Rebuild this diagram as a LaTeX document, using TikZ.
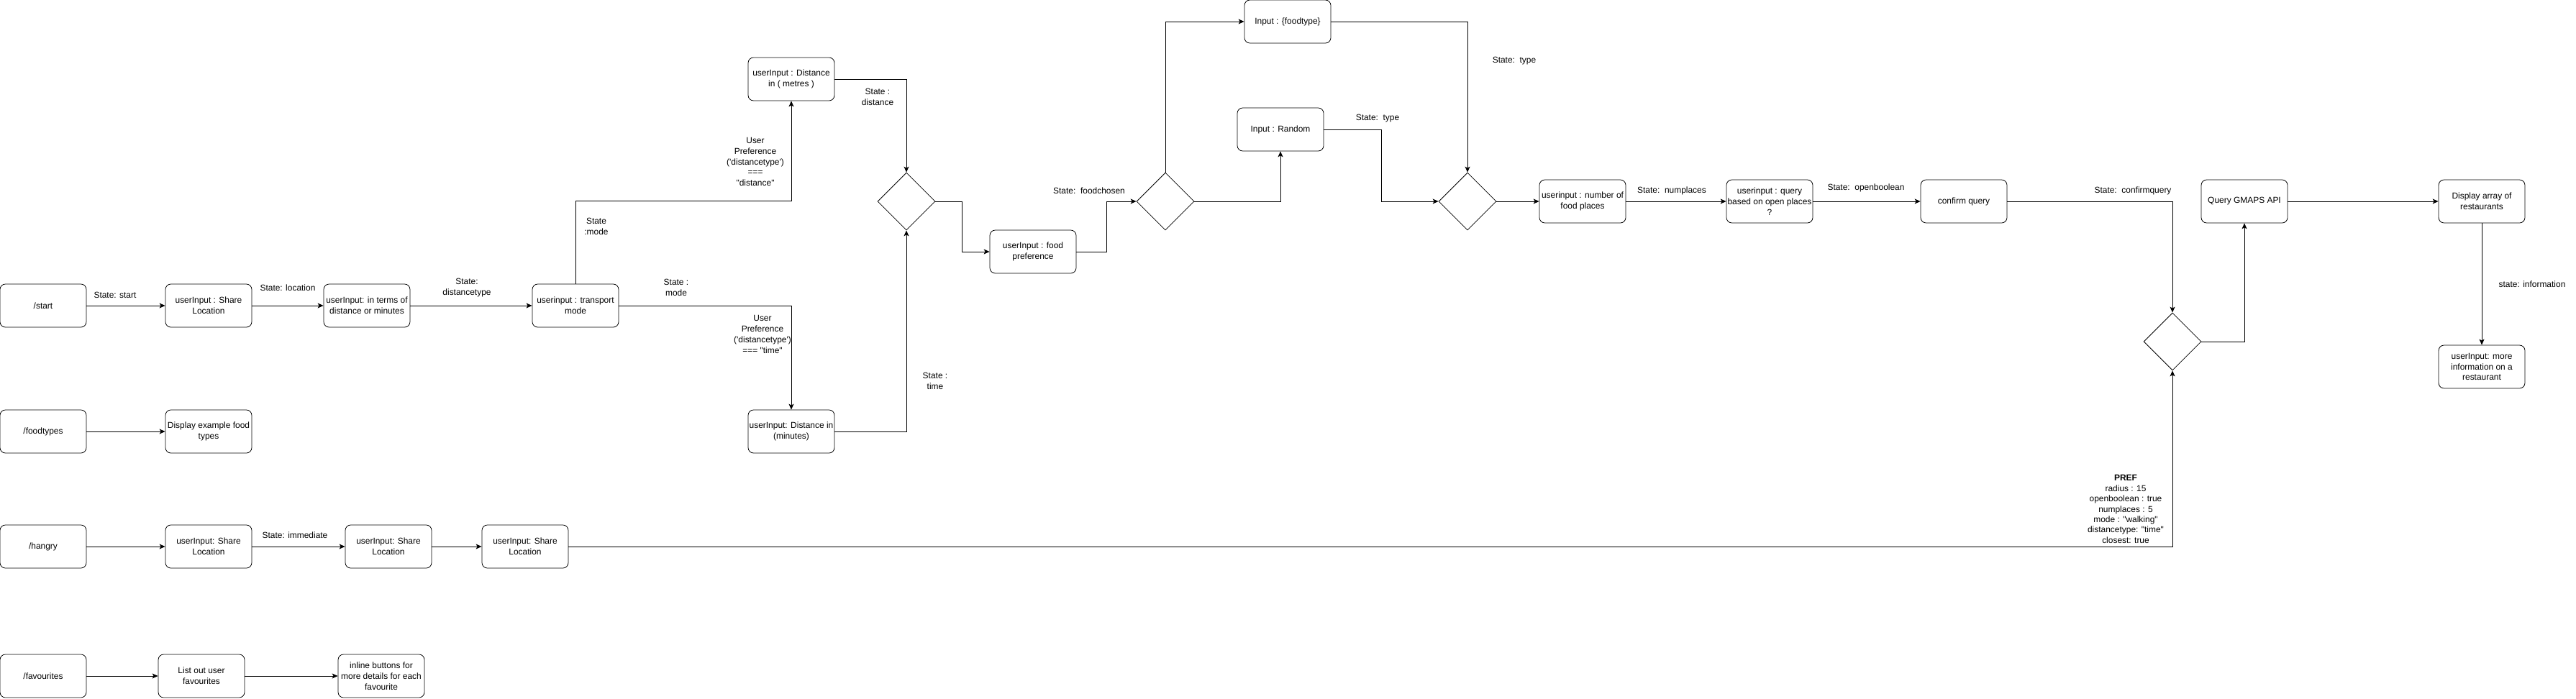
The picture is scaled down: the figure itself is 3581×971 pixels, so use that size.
\documentclass[tikz,border=0pt]{standalone}
\usepackage{fontspec}
\usetikzlibrary{arrows.meta,shapes.geometric}
\newfontfamily\drawfont{Liberation Sans}
\newcommand{\diagfont}{\drawfont\fontsize{6.8pt}{8.5pt}\selectfont}

\begin{document}
\begin{tikzpicture}[x=0.02cm, y=-0.02cm, line width=0.45pt,
    box/.style={draw, rounded corners=0.15cm, minimum width=2.4cm, minimum height=1.2cm, align=center, inner sep=0.5pt, font=\diagfont},
    choice/.style={draw, diamond, minimum size=1.6cm, inner sep=0pt},
    note/.style={align=center, inner sep=0pt, font=\diagfont},
    flow/.style={-{Stealth[length=0.16cm, width=0.14cm, inset=0.04cm]}}]
    \useasboundingbox (0,0) rectangle (3581,971);

    \node[box] (start) at (60,425) {/start};
    \node[box] (loc) at (290,425) {userInput : Share\\Location};
    \node[box] (dtype) at (510,425) {userInput: in terms of\\distance or minutes};
    \node[box] (mode) at (800,425) {userinput : transport\\mode};
    \node[box] (ftypes) at (60,600) {/foodtypes};
    \node[box] (dispft) at (290,600) {Display example food\\types};
    \node[box] (hangry) at (60,760) {/hangry};
    \node[box] (hlocA) at (290,760) {userInput: Share\\Location};
    \node[box] (hlocB) at (540,760) {userInput: Share\\Location};
    \node[box] (hlocC) at (730,760) {userInput: Share\\Location};
    \node[box] (fav) at (60,940) {/favourites};
    \node[box] (favlist) at (280,940) {List out user\\favourites};
    \node[box] (inline) at (530,940) {inline buttons for\\more details for each\\favourite};

    \node[box] (metres) at (1100,110) {userInput : Distance\\in ( metres )};
    \node[box] (minutes) at (1100,600) {userInput: Distance in\\(minutes)};
    \node[choice] (dA) at (1260,280) {};
    \node[box] (fpref) at (1436,350) {userInput : food\\preference};
    \node[choice] (dB) at (1620,280) {};
    \node[box] (ftype) at (1790,30) {Input : \{foodtype\}};
    \node[box] (rand) at (1780,180) {Input : Random};
    \node[choice] (dC) at (2040,280) {};
    \node[box] (nplaces) at (2200,280) {userinput : number of\\food places};
    \node[box] (openq) at (2460,280) {userinput : query\\based on open places\\?};
    \node[box] (confq) at (2730,280) {confirm query};
    \node[choice] (dD) at (3020,475) {};
    \node[box] (gmaps) at (3120,280) {Query GMAPS API};
    \node[box] (disp) at (3450,280) {Display array of\\restaurants};
    \node[box] (info) at (3450,510) {userInput: more\\information on a\\restaurant};

    \draw[flow] (start) -- (loc);
    \draw[flow] (loc) -- (dtype);
    \draw[flow] (dtype) -- (mode);
    \draw[flow] (ftypes) -- (dispft);
    \draw[flow] (hangry) -- (hlocA);
    \draw[flow] (hlocA) -- (hlocB);
    \draw[flow] (hlocB) -- (hlocC);
    \draw[flow] (fav) -- (favlist);
    \draw[flow] (favlist) -- (inline);

    \draw[flow] (mode.north) -- ++(0,-115) -| (metres.south);
    \draw[flow] (mode.east) -| (minutes.north);
    \draw[flow] (metres.east) -| (dA.north);
    \draw[flow] (minutes.east) -| (dA.south);
    \draw[flow] (dA.east) -- ++(37,0) |- (fpref.west);
    \draw[flow] (fpref.east) -- ++(42,0) |- (dB.west);
    \draw[flow] (dB.north) |- (ftype.west);
    \draw[flow] (dB.east) -| (rand.south);
    \draw[flow] (rand.east) -- ++(80,0) |- (dC.west);
    \draw[flow] (ftype.east) -| (dC.north);
    \draw[flow] (dC.east) -- (nplaces.west);
    \draw[flow] (nplaces) -- (openq);
    \draw[flow] (openq) -- (confq);
    \draw[flow] (confq.east) -| (dD.north);
    \draw[flow] (hlocC.east) -| (dD.south);
    \draw[flow] (dD.east) -| (gmaps.south);
    \draw[flow] (gmaps) -- (disp);
    \draw[flow] (disp) -- (info);

    \node[note] at (160,410) {State: start};
    \node[note] at (400,400) {State: location};
    \node[note] at (649,400) {State:\\distancetype};
    \node[note] at (410,744) {State: immediate};
    \node[note] at (829,315) {State\\:mode};
    \node[note] at (940,400) {State :\\mode};
    \node[note] at (1050,225) {User\\Preference\\('distancetype')\\===\\"distance"};
    \node[note] at (1060,465) {User\\Preference\\('distancetype')\\=== "time"};
    \node[note] at (1220,135) {State :\\distance};
    \node[note] at (1300,530) {State :\\time};
    \node[note] at (1514,265) {State:~~foodchosen};
    \node[note] at (1915,165) {State:~~type};
    \node[note] at (2105,85) {State:~~type};
    \node[note] at (2324,265) {State:~~numplaces};
    \node[note] at (2594,261) {State:~~openboolean};
    \node[note] at (2965,265) {State:~~confirmquery};
    \node[note] at (3520,395) {state: information};
    \node[note, font=\drawfont\fontsize{6.8pt}{8.2pt}\selectfont] at (2955,708) {\textbf{PREF}\\radius : 15\\openboolean : true\\numplaces : 5\\mode : "walking"\\distancetype: "time"\\closest: true};
\end{tikzpicture}
\end{document}
